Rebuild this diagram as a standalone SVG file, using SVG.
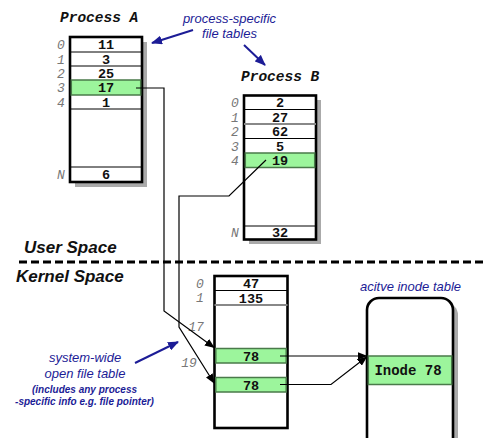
<svg xmlns="http://www.w3.org/2000/svg" width="487" height="438" viewBox="0 0 487 438">
  <defs>
    <marker id="arrowBlack" markerUnits="userSpaceOnUse" markerWidth="10" markerHeight="8" refX="9" refY="4" orient="auto">
      <path d="M0,0 L10,4 L0,8 z" fill="#000"/>
    </marker>
    <marker id="arrowBlue" markerUnits="userSpaceOnUse" markerWidth="11" markerHeight="9" refX="10" refY="4.5" orient="auto">
      <path d="M0,0 L11,4.5 L0,9 z" fill="#1c1c96"/>
    </marker>
    <style>
      .frame { fill: #fff; stroke: #000; stroke-width: 2.6; }
      .shadow { fill: #aaa; }
      .sep { stroke: #000; stroke-width: 1; }
      .sepGrey { stroke: #888; stroke-width: 2; }
      .hl { fill: #9cf59c; stroke: #4a7a4a; stroke-width: 1.5; }
      .val { font-family: "Liberation Mono", "DejaVu Sans Mono", monospace; font-weight: bold; font-size: 13.5px; text-anchor: middle; fill: #111; }
      .idx { font-family: "Liberation Mono", "DejaVu Sans Mono", monospace; font-style: italic; font-size: 13px; text-anchor: middle; fill: #777; }
      .title { font-family: "Liberation Mono", "DejaVu Sans Mono", monospace; font-weight: bold; font-style: italic; font-size: 14.5px; fill: #111; }
      .note { font-family: "Liberation Sans", Arial, sans-serif; font-style: italic; font-size: 13px; fill: #1c1c96; text-anchor: middle; }
      .noteSmall { font-family: "Liberation Sans", Arial, sans-serif; font-style: italic; font-weight: bold; font-size: 10px; fill: #1c1c96; text-anchor: middle; }
      .space { font-family: "Liberation Sans", Arial, sans-serif; font-style: italic; font-weight: bold; font-size: 17px; fill: #111; }
      .link { fill: none; stroke: #000; stroke-width: 1.2; }
      .pointer { fill: none; stroke: #1c1c96; stroke-width: 2; }
    </style>
  </defs>

  <!-- user / kernel boundary -->
  <g id="boundary">
    <line x1="19" y1="262" x2="487" y2="262" stroke="#000" stroke-width="3" stroke-dasharray="8 4"/>
    <text class="space" x="24" y="253">User Space</text>
    <text class="space" x="16" y="282">Kernel Space</text>
  </g>

  <!-- Process A file descriptor table -->
  <g id="processA">
    <text class="title" x="60" y="22">Process A</text>
    <rect class="shadow" x="75" y="42" width="72" height="145"/>
    <rect class="frame" x="70" y="37" width="72" height="145"/>
    <rect class="hl" x="71.3" y="80" width="69.4" height="15"/>
    <line class="sep" x1="70" y1="52" x2="142" y2="52"/>
    <line class="sep" x1="70" y1="66" x2="142" y2="66"/>
    <line class="sep" x1="70" y1="109" x2="142" y2="109"/>
    <line class="sep" x1="70" y1="167" x2="142" y2="167"/>
    <text class="val" x="106" y="49">11</text>
    <text class="val" x="106" y="63.5">3</text>
    <text class="val" x="106" y="77.5">25</text>
    <text class="val" x="106" y="92">17</text>
    <text class="val" x="106" y="106.5">1</text>
    <text class="val" x="106" y="179">6</text>
    <text class="idx" x="61" y="49">0</text>
    <text class="idx" x="61" y="63.5">1</text>
    <text class="idx" x="61" y="77.5">2</text>
    <text class="idx" x="61" y="92">3</text>
    <text class="idx" x="61" y="106.5">4</text>
    <text class="idx" x="61" y="179">N</text>
  </g>

  <!-- Process B file descriptor table -->
  <g id="processB">
    <text class="title" x="241" y="81">Process B</text>
    <rect class="shadow" x="249" y="100" width="72" height="144"/>
    <rect class="frame" x="244" y="95.5" width="72" height="144"/>
    <rect class="hl" x="245.3" y="153" width="69.4" height="14.5"/>
    <line class="sep" x1="244" y1="109.5" x2="316" y2="109.5"/>
    <line class="sepGrey" x1="244" y1="124" x2="316" y2="124"/>
    <line class="sep" x1="244" y1="138.5" x2="316" y2="138.5"/>
    <line class="sep" x1="244" y1="226" x2="316" y2="226"/>
    <text class="val" x="280" y="107">2</text>
    <text class="val" x="280" y="121.5">27</text>
    <text class="val" x="280" y="136">62</text>
    <text class="val" x="280" y="150.5">5</text>
    <text class="val" x="280" y="165">19</text>
    <text class="val" x="280" y="237">32</text>
    <text class="idx" x="235" y="107">0</text>
    <text class="idx" x="235" y="121.5">1</text>
    <text class="idx" x="235" y="136">2</text>
    <text class="idx" x="235" y="150.5">3</text>
    <text class="idx" x="235" y="165">4</text>
    <text class="idx" x="235" y="237">N</text>
  </g>

  <!-- system-wide open file table -->
  <g id="openFileTable">
    <rect class="frame" x="214.5" y="276" width="73" height="152"/>
    <rect class="hl" x="215.8" y="348.5" width="70.4" height="14.5"/>
    <rect class="hl" x="215.8" y="377.5" width="70.4" height="14.5"/>
    <line class="sep" x1="214.5" y1="290.5" x2="287.5" y2="290.5"/>
    <line class="sepGrey" x1="214.5" y1="305" x2="287.5" y2="305"/>
    <text class="val" x="251" y="288">47</text>
    <text class="val" x="251" y="302.5">135</text>
    <text class="val" x="251" y="360.5">78</text>
    <text class="val" x="251" y="389.5">78</text>
    <text class="idx" x="200" y="287.5">0</text>
    <text class="idx" x="200" y="302">1</text>
    <text class="idx" x="196" y="331">17</text>
    <text class="idx" x="189" y="367">19</text>
  </g>

  <!-- active inode table -->
  <g id="inodeTable">
    <text class="note" x="410.5" y="291">acitve inode table</text>
    <rect class="shadow" x="372" y="303" width="86" height="160" rx="12"/>
    <rect class="frame" x="367" y="298" width="86" height="160" rx="12"/>
    <rect class="hl" x="368.3" y="356" width="83.4" height="28.5"/>
    <text class="val" x="408" y="375" style="font-size:14px">Inode 78</text>
  </g>

  <!-- annotations -->
  <g id="annotations">
    <text class="note" x="229.5" y="23">process-specific</text>
    <text class="note" x="229.5" y="38">file tables</text>
    <line class="pointer" x1="193" y1="30" x2="152" y2="43" marker-end="url(#arrowBlue)"/>
    <line class="pointer" x1="244" y1="45" x2="265" y2="65" marker-end="url(#arrowBlue)"/>
    <text class="note" x="85" y="362">system-wide</text>
    <text class="note" x="85" y="378">open file table</text>
    <text class="noteSmall" x="84.5" y="392.5">(includes any process</text>
    <text class="noteSmall" x="84.5" y="404.5">-specific info e.g. file pointer)</text>
    <line class="pointer" x1="135" y1="363" x2="178" y2="342" marker-end="url(#arrowBlue)"/>
  </g>

  <!-- descriptor and inode references -->
  <g id="connectors">
    <path class="link" d="M136,88 H164 V311 L214,347.5" marker-end="url(#arrowBlack)"/>
    <path class="link" d="M266,160 L229,196 H179 V327 L214,383" marker-end="url(#arrowBlack)"/>
    <path class="link" d="M280,356 H366.5" marker-end="url(#arrowBlack)"/>
    <path class="link" d="M280,384.5 H331 L366.5,357" marker-end="url(#arrowBlack)"/>
  </g>
</svg>
